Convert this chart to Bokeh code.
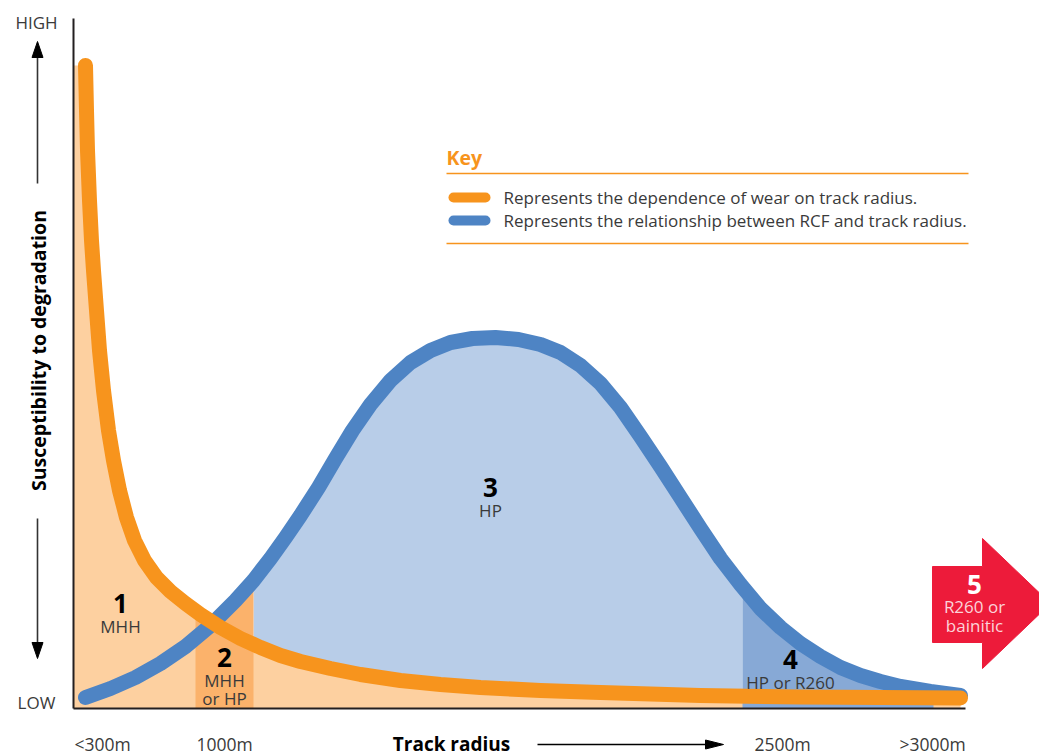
import numpy as np
from bokeh.plotting import figure
from bokeh.models import Range1d
from bokeh.core.properties import value
from bokeh.embed import file_html
from bokeh.resources import INLINE

# ---------------- data (x: distance along the track-radius axis, y: susceptibility; chart units) -------------
wear_x = [12, 13, 14, 16, 18, 20, 23, 26, 30, 35, 40, 46, 53, 61, 71, 83, 97, 112, 127, 147, 167, 187,
          207, 227, 257, 287, 327, 367, 407, 467, 527, 627, 727, 887]
wear_y = [643, 598, 558, 508, 468, 438, 398, 358, 318, 278, 248, 218, 191, 168, 148, 131, 117, 105, 94, 81,
          70, 61, 53, 47, 40, 34, 28, 24, 21, 18, 16, 13, 11.5, 10.5]

rcf_x = [12, 37, 62, 87, 112, 137, 162, 180, 197, 212, 227, 245, 262, 279, 297, 317, 337, 357, 377, 399,
         422, 445, 467, 487, 507, 527, 547, 567, 587, 607, 627, 647, 667, 687, 707, 727, 747, 767, 787, 807,
         827, 857, 887]
rcf_y = [11, 20, 31, 45, 62, 83, 108, 128, 150, 171, 193, 221, 250, 278, 304, 328, 346, 358, 366, 370,
         371, 369, 364, 356, 343, 325, 301, 272, 242, 211, 180, 150, 124, 100, 81, 65, 52, 41, 33, 27,
         22, 17, 13]

region2 = (122, 180)
region3 = (180, 669)
region4 = (669, 860)

tick_labels = ["<300m", "1000m", "2500m", ">3000m"]
key_labels = ["Represents the dependence of wear on track radius.",
              "Represents the relationship between RCF and track radius."]
zone_numbers = ["1", "2", "3", "4"]
zone_steels = [["MHH"], ["MHH", "or HP"], ["HP"], ["HP or R260"]]
zone5_number = "5"
zone5_steels = ["R260 or", "bainitic"]

# ---------------- layout ----------------
W, H = 1039, 756
X0, Y0, M = 73, 708, 0          # axis origin in page pixels, canvas offset


def px(v):
    return v - X0


def py(v):
    return Y0 - v


FONT = value("Open Sans")
ORANGE = "#F7941D"
BLUE = "#4E84C4"
LIGHT_ORANGE = "#FDD0A0"
DARK_ORANGE = "#FBB26B"
LIGHT_BLUE = "#B8CDE8"
MID_BLUE = "#87A9D6"
RED = "#ED1B3A"
TXT = "#3A3A3A"

p = figure(width=W, height=H, output_backend="svg", toolbar_location=None,
           x_range=Range1d(M - X0, M - X0 + W), y_range=Range1d(Y0 - M - H, Y0 - M),
           x_axis_type=None, y_axis_type=None, min_border=0, outline_line_color=None,
           background_fill_color="white", border_fill_color="white")

# ---------------- fills ----------------
g3 = np.linspace(region3[0], region3[1], 200)
p.varea(x=g3, y1=0, y2=np.interp(g3, rcf_x, rcf_y), fill_color=LIGHT_BLUE)

p.varea(x=[0] + wear_x, y1=0, y2=[wear_y[0]] + wear_y, fill_color=LIGHT_ORANGE)

g2 = np.linspace(region2[0], region2[1], 80)
p.varea(x=g2, y1=0, y2=np.maximum(np.interp(g2, wear_x, wear_y), np.interp(g2, rcf_x, rcf_y)),
        fill_color=DARK_ORANGE)

g4 = np.linspace(region4[0], region4[1], 120)
p.varea(x=g4, y1=0, y2=np.interp(g4, rcf_x, rcf_y), fill_color=MID_BLUE)

# ---------------- axes ----------------
p.line([0, 0], [0, py(18)], line_color="#231F20", line_width=2)
p.line([0, px(965)], [0, 0], line_color="#231F20", line_width=2)

# ---------------- curves ----------------
p.line(rcf_x, rcf_y, line_color=BLUE, line_width=15, line_cap="round", line_join="round")
p.line(wear_x, wear_y, line_color=ORANGE, line_width=15, line_cap="round", line_join="round")

# ---------------- y-axis decoration ----------------
AX = "#333333"
p.text(x=[px(36)], y=[py(22)], text=["HIGH"], text_font=FONT, text_font_size="17px",
       text_color=TXT, text_align="center", text_baseline="middle")
p.text(x=[px(36)], y=[py(702)], text=["LOW"], text_font=FONT, text_font_size="17px",
       text_color=TXT, text_align="center", text_baseline="middle")
p.line([px(37), px(37)], [py(56), py(183)], line_color=AX, line_width=1.6)
p.patch([px(31.5), px(42.5), px(37)], [py(57), py(57), py(41)], fill_color="black", line_color="black")
p.line([px(37), px(37)], [py(518), py(643)], line_color=AX, line_width=1.6)
p.patch([px(31.5), px(42.5), px(37)], [py(642), py(642), py(658)], fill_color="black", line_color="black")
p.text(x=[px(38)], y=[py(350)], text=["Susceptibility to degradation"], angle=np.pi / 2,
       text_font=FONT, text_font_size="19.5px", text_font_style="bold", text_color="black",
       text_align="center", text_baseline="middle")

# ---------------- x-axis decoration ----------------
p.text(x=[px(102), px(224), px(782), px(932)], y=[py(743)] * 4, text=tick_labels,
       text_font=FONT, text_font_size="17.5px", text_color=TXT, text_align="center", text_baseline="middle")
p.text(x=[px(451)], y=[py(743)], text=["Track radius"], text_font=FONT, text_font_size="19px",
       text_font_style="bold", text_color="black", text_align="center", text_baseline="middle")
p.line([px(537), px(707)], [py(744), py(744)], line_color="black", line_width=1.6)
p.patch([px(705), px(705), px(723)], [py(739.5), py(748.5), py(744)], fill_color="black", line_color="black")

# ---------------- key ----------------
p.text(x=[px(446)], y=[py(157)], text=["Key"], text_font=FONT, text_font_size="19.5px",
       text_font_style="bold", text_color=ORANGE, text_align="left", text_baseline="middle")
p.line([px(446), px(968)], [py(173), py(173)], line_color=ORANGE, line_width=1.3)
p.line([px(446), px(968)], [py(243), py(243)], line_color=ORANGE, line_width=1.3)
p.line([px(453), px(485)], [py(197), py(197)], line_color=ORANGE, line_width=10, line_cap="round")
p.line([px(453), px(485)], [py(220), py(220)], line_color=BLUE, line_width=10, line_cap="round")
p.text(x=[px(503), px(503)], y=[py(197), py(220)], text=key_labels, text_font=FONT,
       text_font_size="17px", text_color=TXT, text_align="left", text_baseline="middle")

# ---------------- zone labels ----------------
num_pos = [(120, 603), (224, 657), (490, 487), (790, 659)]
for n, (zx, zy), steels in zip(zone_numbers, num_pos, zone_steels):
    p.text(x=[px(zx)], y=[py(zy)], text=[n], text_font=FONT, text_font_size="26px",
           text_font_style="bold", text_color="black", text_align="center", text_baseline="middle")
    for i, s in enumerate(steels):
        p.text(x=[px(zx)], y=[py(zy + 23 + 18 * i)], text=[s], text_font=FONT, text_font_size="17px",
               text_color=TXT, text_align="center", text_baseline="middle")

# ---------------- zone 5 arrow ----------------
ax_pts = [932, 982, 982, 1050, 982, 982, 932]
ay_pts = [566, 566, 538, 603, 668, 642, 642]
p.patch([px(v) for v in ax_pts], [py(v) for v in ay_pts], fill_color=RED, line_color=RED)
p.text(x=[px(974)], y=[py(584)], text=[zone5_number], text_font=FONT, text_font_size="26px",
       text_font_style="bold", text_color="white", text_align="center", text_baseline="middle")
p.text(x=[px(974), px(974)], y=[py(606), py(625)], text=zone5_steels, text_font=FONT,
       text_font_size="17px", text_color="#FCD3D9", text_align="center", text_baseline="middle")

open("out.html", "w").write(file_html(p, INLINE))
